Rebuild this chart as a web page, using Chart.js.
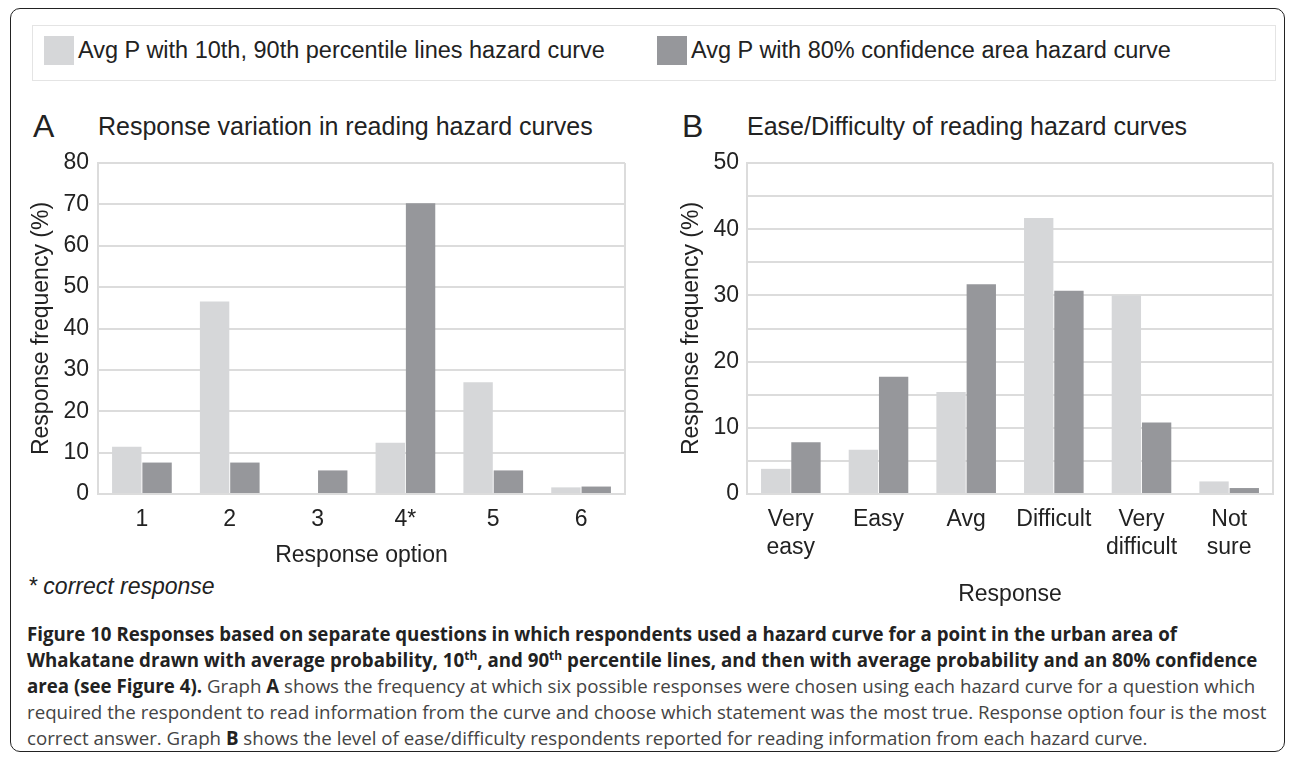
<!DOCTYPE html>
<html>
<head>
<meta charset="utf-8">
<script src="https://cdn.jsdelivr.net/npm/chart.js@4.4.1/dist/chart.umd.min.js"></script>
<style>
  body { margin: 0; background: #fff; font-family: 'Liberation Sans', Arial, sans-serif; color: #222; }
  #frame { position: absolute; left: 10px; top: 8px; width: 1273px; height: 742px; border: 1.5px solid #222; border-radius: 10px; }
  #legend { position: absolute; left: 32px; top: 25px; width: 1242px; height: 54px; border: 1px solid #e4e4e4; }
  .item { position: absolute; top: 10px; font-size: 23.5px; line-height: 29px; white-space: nowrap; }
  .sw { display: inline-block; width: 30px; height: 29px; vertical-align: top; margin-right: 4px; }
  .panel { position: absolute; top: 108px; font-size: 25px; line-height: 36px; white-space: nowrap; }
  .panel b { font-weight: normal; font-size: 32px; position: absolute; top: 0; }
  .panel span { position: absolute; top: 0; }
  canvas { position: absolute; }
  #note { position: absolute; left: 28px; top: 573px; font-size: 23px; font-style: italic; }
  #caption { position: absolute; left: 27px; top: 621px; width: 1255px; font-family: 'Open Sans', sans-serif; font-size: 18.7px; line-height: 26px; color: #444; white-space: nowrap; }
  #caption strong { color: #222; font-weight: bold; }
  #caption sup { font-size: 12px; line-height: 0; }
</style>
</head>
<body>
<div id="frame"></div>
<div id="legend"></div>
<div class="panel" style="left:0"><b style="left:33px">A</b><span style="left:98px">Response variation in reading hazard curves</span></div>
<div class="panel" style="left:0"><b style="left:682px">B</b><span style="left:747px">Ease/Difficulty of reading hazard curves</span></div>
<canvas id="chartA" style="left:14px; top:140px"></canvas>
<canvas id="chartB" style="left:660px; top:140px"></canvas>
<div id="note">* correct response</div>
<div id="caption">
<strong>Figure 10 Responses based on separate questions in which respondents used a hazard curve for a point in the urban area of</strong><br>
<strong>Whakatane drawn with average probability, 10<sup>th</sup>, and 90<sup>th</sup> percentile lines, and then with average probability and an 80% confidence</strong><br>
<strong>area (see Figure 4).</strong> Graph <strong>A</strong> shows the frequency at which six possible responses were chosen using each hazard curve for a question which<br>
required the respondent to read information from the curve and choose which statement was the most true. Response option four is the most<br>
correct answer. Graph <strong>B</strong> shows the level of ease/difficulty respondents reported for reading information from each hazard curve.
</div>
<script>
const seriesNames = ['Avg P with 10th, 90th percentile lines hazard curve', 'Avg P with 80% confidence area hazard curve'];
const seriesColors = ['#d6d7d9', '#96979b'];

const optionsA = ['1', '2', '3', '4*', '5', '6'];
const percentileA = [11.4, 46.5, 0, 12.4, 27.0, 1.6];
const confidenceA = [7.6, 7.6, 5.7, 70.3, 5.7, 1.8];

const optionsB = [['Very', 'easy'], 'Easy', 'Avg', 'Difficult', ['Very', 'difficult'], ['Not', 'sure']];
const percentileB = [3.8, 6.7, 15.4, 41.7, 30.0, 1.9];
const confidenceB = [7.8, 17.7, 31.7, 30.7, 10.8, 0.9];

Chart.defaults.font.family = "'Liberation Sans', Arial, sans-serif";
Chart.defaults.color = '#222';

// legend shared by both graphs
const legend = document.getElementById('legend');
const legendLeft = [11, 624];
seriesNames.forEach((name, i) => {
    const el = document.createElement('div');
    el.className = 'item';
    el.style.left = legendLeft[i] + 'px';
    el.innerHTML = '<span class="sw" style="background:' + seriesColors[i] + '"></span>' + name;
    legend.appendChild(el);
});

const gridColor = '#dcdcdc';

// right edge of the plot box
const boxPlugin = {
    id: 'box',
    afterDraw(chart) {
        const a = chart.chartArea;
        const ctx = chart.ctx;
        ctx.save();
        ctx.strokeStyle = gridColor;
        ctx.lineWidth = 2;
        ctx.beginPath();
        ctx.moveTo(a.right, a.top);
        ctx.lineTo(a.right, a.bottom);
        ctx.stroke();
        ctx.restore();
    }
};

function makeChart(id, w, h, labels, d1, d2, cfg) {
    const canvas = document.getElementById(id);
    canvas.width = w;
    canvas.height = h;
    canvas.style.width = w + 'px';
    canvas.style.height = h + 'px';
    return new Chart(canvas, {
        type: 'bar',
        data: {
            labels: labels,
            datasets: [
                { label: seriesNames[0], data: d1, backgroundColor: seriesColors[0], categoryPercentage: 0.69, barPercentage: 0.97 },
                { label: seriesNames[1], data: d2, backgroundColor: seriesColors[1], categoryPercentage: 0.69, barPercentage: 0.97 }
            ]
        },
        options: {
            responsive: false,
            animation: false,
            layout: { padding: { top: 23, right: cfg.padRight, left: 0, bottom: 0 } },
            plugins: { legend: { display: false }, tooltip: { enabled: false } },
            scales: {
                x: {
                    grid: { display: false, drawTicks: false },
                    border: { color: gridColor, width: 2 },
                    ticks: { font: { size: 23 }, padding: 12, maxRotation: 0, autoSkip: false },
                    title: { display: true, text: cfg.xTitle, font: { size: 23 }, padding: { top: 0, bottom: cfg.xTitlePad } },
                    afterFit: scale => { scale.height = cfg.xHeight; }
                },
                y: {
                    min: 0,
                    max: cfg.yMax,
                    grid: { color: gridColor, lineWidth: 2, drawTicks: false },
                    border: { color: gridColor, width: 2 },
                    ticks: {
                        stepSize: cfg.step,
                        font: { size: 23 },
                        padding: cfg.tickPad,
                        callback: v => (v % 10 === 0 ? v : '')
                    },
                    title: { display: true, text: 'Response frequency (%)', font: { size: 23 }, padding: { top: cfg.yTitlePad, bottom: 0 } },
                    afterFit: scale => { scale.width = cfg.yWidth; }
                }
            }
        },
        plugins: [boxPlugin]
    });
}

makeChart('chartA', 624, 429, optionsA, percentileA, confidenceA, {
    padRight: 13, yMax: 80, step: 10, yWidth: 84, tickPad: 9, yTitlePad: 14,
    xHeight: 75, xTitle: 'Response option', xTitlePad: 0
});

makeChart('chartB', 624, 470, optionsB, percentileB, confidenceB, {
    padRight: 11, yMax: 50, step: 5, yWidth: 87, tickPad: 8, yTitlePad: 18,
    xHeight: 116, xTitle: 'Response', xTitlePad: 2
});
</script>
</body>
</html>
